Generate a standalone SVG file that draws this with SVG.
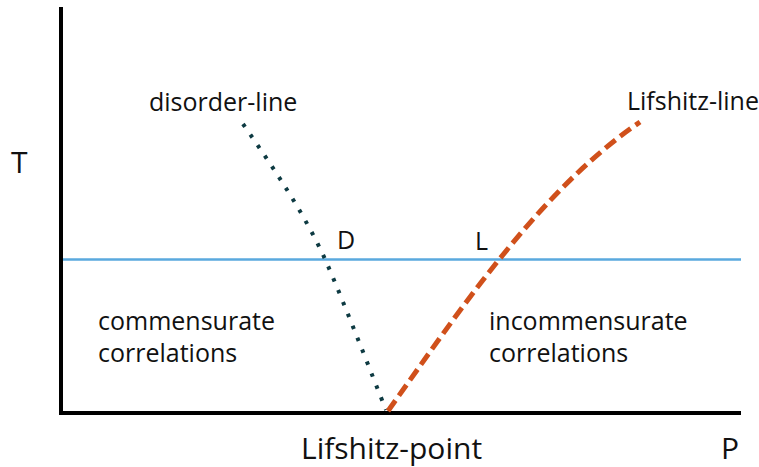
<svg xmlns="http://www.w3.org/2000/svg" width="759" height="467" viewBox="0 0 759 467">
<style>
text{font-family:"Open Sans","Noto Sans",sans-serif;fill:#111;}
.lbl{font-size:25px;}
.ax{font-size:30px;}
.axis{stroke:#000;stroke-width:4;fill:none;}
.tc{stroke:#5aa9de;stroke-width:2.5;fill:none;}
.dis{stroke:#0d3a42;stroke-width:4;fill:none;stroke-dasharray:3.5 9.3;}
.lif{stroke:#d0501b;stroke-width:5;fill:none;stroke-dasharray:13 6;}
</style>
<rect width="759" height="467" fill="#fff"/>
<g id="axes">
<path class="axis" d="M61,7 V413 H741"/>
</g>
<g id="connectors">
<path id="tc-line" class="tc" d="M63,259.5 H741"/>
<path id="disorder" class="dis" d="M243,124 C275,170 305,215 325,259 C345,305 370,370 386,410"/>
<path id="lifshitz" class="lif" d="M388,411 C460,310 540,190 640,122"/>
</g>
<g id="label-T"><text class="ax" x="11" y="173">T</text></g>
<g id="label-P"><text class="ax" x="721" y="459">P</text></g>
<g id="label-lp"><text class="ax" x="301" y="459">Lifshitz-point</text></g>
<g id="label-dl"><text class="lbl" x="149" y="111">disorder-line</text></g>
<g id="label-ll"><text class="lbl" x="627" y="110">Lifshitz-line</text></g>
<g id="label-D"><text class="lbl" x="337" y="249">D</text></g>
<g id="label-L"><text class="lbl" x="475" y="250">L</text></g>
<g id="region-comm"><text class="lbl" x="98" y="330">commensurate</text><text class="lbl" x="98" y="362">correlations</text></g>
<g id="region-incomm"><text class="lbl" x="489" y="330">incommensurate</text><text class="lbl" x="489" y="362">correlations</text></g>
</svg>
